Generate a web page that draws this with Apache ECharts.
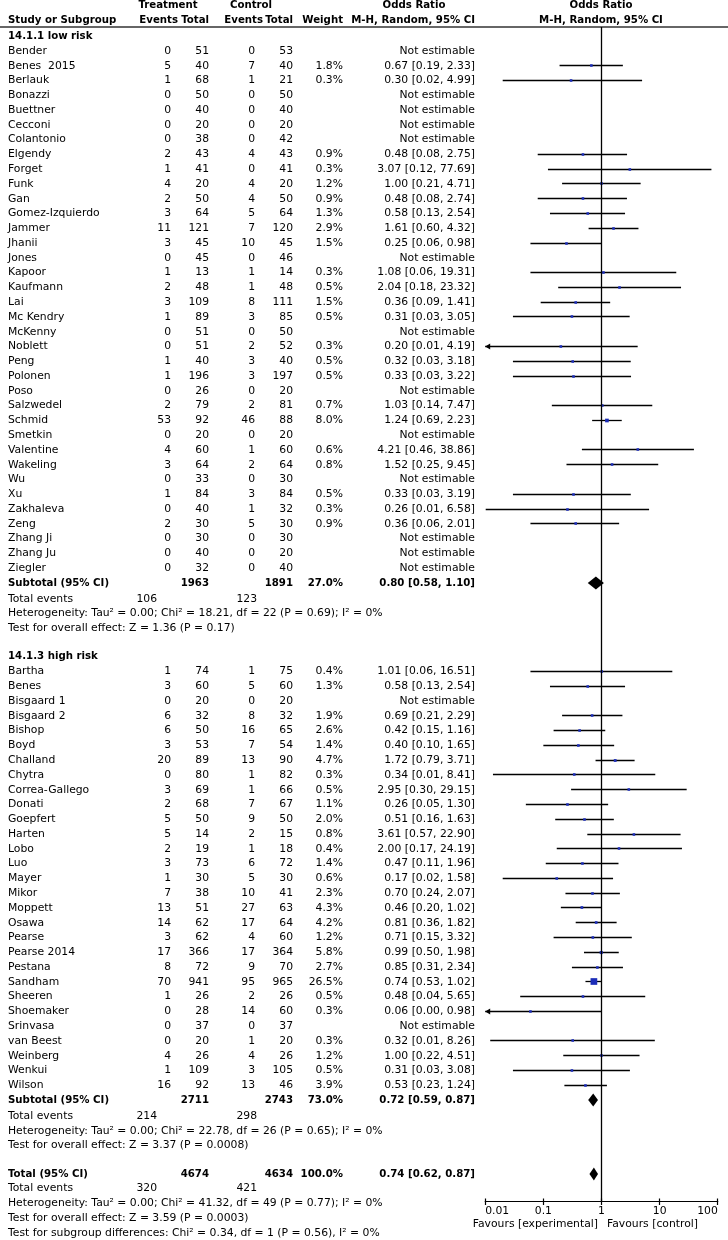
<!DOCTYPE html>
<html><head><meta charset="utf-8">
<script src="https://cdn.jsdelivr.net/npm/echarts@6/dist/echarts.min.js"></script>
<style>html,body{margin:0;padding:0;background:#fff}#c{width:728px;height:1240px}</style>
</head><body><div id="c"></div>
<script>
// ---------------- DATA ----------------
const lowStudies = ['Bender','Benes  2015','Berlauk','Bonazzi','Buettner','Cecconi','Colantonio','Elgendy','Forget','Funk','Gan','Gomez-Izquierdo','Jammer','Jhanii','Jones','Kapoor','Kaufmann','Lai','Mc Kendry','McKenny','Noblett','Peng','Polonen','Poso','Salzwedel','Schmid','Smetkin','Valentine','Wakeling','Wu','Xu','Zakhaleva','Zeng','Zhang Ji','Zhang Ju','Ziegler'];
const lowTrtEv  = [0,5,1,0,0,0,0,2,1,4,2,3,11,3,0,1,2,3,1,0,0,1,1,0,2,53,0,4,3,0,1,0,2,0,0,0];
const lowTrtN   = [51,40,68,50,40,20,38,43,41,20,50,64,121,45,45,13,48,109,89,51,51,40,196,26,79,92,20,60,64,33,84,40,30,30,40,32];
const lowCtlEv  = [0,7,1,0,0,0,0,4,0,4,4,5,7,10,0,1,1,8,3,0,2,3,3,0,2,46,0,1,2,0,3,1,5,0,0,0];
const lowCtlN   = [53,40,21,50,40,20,42,43,41,20,50,64,120,45,46,14,48,111,85,50,52,40,197,20,81,88,20,60,64,30,84,32,30,30,20,40];
const lowWeight = [null,1.8,0.3,null,null,null,null,0.9,0.3,1.2,0.9,1.3,2.9,1.5,null,0.3,0.5,1.5,0.5,null,0.3,0.5,0.5,null,0.7,8.0,null,0.6,0.8,null,0.5,0.3,0.9,null,null,null];
const lowOR     = [null,0.67,0.30,null,null,null,null,0.48,3.07,1.00,0.48,0.58,1.61,0.25,null,1.08,2.04,0.36,0.31,null,0.20,0.32,0.33,null,1.03,1.24,null,4.21,1.52,null,0.33,0.26,0.36,null,null,null];
const lowLo     = [null,0.19,0.02,null,null,null,null,0.08,0.12,0.21,0.08,0.13,0.60,0.06,null,0.06,0.18,0.09,0.03,null,0.0092,0.03,0.03,null,0.14,0.69,null,0.46,0.25,null,0.03,0.0102,0.06,null,null,null];
const lowHi     = [null,2.33,4.99,null,null,null,null,2.75,77.69,4.71,2.74,2.54,4.32,0.98,null,19.31,23.32,1.41,3.05,null,4.19,3.18,3.22,null,7.47,2.23,null,38.86,9.45,null,3.19,6.58,2.01,null,null,null];

const highStudies = ['Bartha','Benes','Bisgaard 1','Bisgaard 2','Bishop','Boyd','Challand','Chytra','Correa-Gallego','Donati','Goepfert','Harten','Lobo','Luo','Mayer','Mikor','Moppett','Osawa','Pearse','Pearse 2014','Pestana','Sandham','Sheeren','Shoemaker','Srinvasa','van Beest','Weinberg','Wenkui','Wilson'];
const highTrtEv  = [1,3,0,6,6,3,20,0,3,2,5,5,2,3,1,7,13,14,3,17,8,70,1,0,0,0,4,1,16];
const highTrtN   = [74,60,20,32,50,53,89,80,69,68,50,14,19,73,30,38,51,62,62,366,72,941,26,28,37,20,26,109,92];
const highCtlEv  = [1,5,0,8,16,7,13,1,1,7,9,2,1,6,5,10,27,17,4,17,9,95,2,14,0,1,4,3,13];
const highCtlN   = [75,60,20,32,65,54,90,82,66,67,50,15,18,72,30,41,63,64,60,364,70,965,26,60,37,20,26,105,46];
const highWeight = [0.4,1.3,null,1.9,2.6,1.4,4.7,0.3,0.5,1.1,2.0,0.8,0.4,1.4,0.6,2.3,4.3,4.2,1.2,5.8,2.7,26.5,0.5,0.3,null,0.3,1.2,0.5,3.9];
const highOR     = [1.01,0.58,null,0.69,0.42,0.40,1.72,0.34,2.95,0.26,0.51,3.61,2.00,0.47,0.17,0.70,0.46,0.81,0.71,0.99,0.85,0.74,0.48,0.06,null,0.32,1.00,0.31,0.53];
const highLo     = [0.06,0.13,null,0.21,0.15,0.10,0.79,0.0136,0.30,0.05,0.16,0.57,0.17,0.11,0.02,0.24,0.20,0.36,0.15,0.50,0.31,0.53,0.04,0.0032,null,0.0122,0.22,0.03,0.23];
const highHi     = [16.51,2.54,null,2.29,1.16,1.65,3.71,8.41,29.15,1.30,1.63,22.90,24.19,1.96,1.58,2.07,1.02,1.82,3.32,1.98,2.34,1.02,5.65,0.98,null,8.26,4.51,3.08,1.24];

// summaries: [trtN, ctlN, weight, or, lo, hi, trtEvents, ctlEvents]
const lowSummary   = [1963, 1891, 27.0, 0.80, 0.58, 1.10, 106, 123];
const highSummary  = [2711, 2743, 73.0, 0.72, 0.59, 0.87, 214, 298];
const totalSummary = [4674, 4634, 100.0, 0.74, 0.62, 0.87, 320, 421];

const lowHet   = 'Heterogeneity: Tau\u00B2 = 0.00; Chi\u00B2 = 18.21, df = 22 (P = 0.69); I\u00B2 = 0%';
const lowTest  = 'Test for overall effect: Z = 1.36 (P = 0.17)';
const highHet  = 'Heterogeneity: Tau\u00B2 = 0.00; Chi\u00B2 = 22.78, df = 26 (P = 0.65); I\u00B2 = 0%';
const highTest = 'Test for overall effect: Z = 3.37 (P = 0.0008)';
const totHet   = 'Heterogeneity: Tau\u00B2 = 0.00; Chi\u00B2 = 41.32, df = 49 (P = 0.77); I\u00B2 = 0%';
const totTest  = 'Test for overall effect: Z = 3.59 (P = 0.0003)';
const subgroupTest = 'Test for subgroup differences: Chi\u00B2 = 0.34, df = 1 (P = 0.56), I\u00B2 = 0%';

const axisTicks = [0.01, 0.1, 1, 10, 100];
const favourLeft = 'Favours [experimental]';
const favourRight = 'Favours [control]';

// ---------------- LAYOUT ----------------
const FONT = '"DejaVu Sans", sans-serif';
const FS = 10.8, FSB = 10.2;
const ROW0_Y = 6.675, ROW_H = 14.775, AXIS_Y = 1201.5;
const ROW_MAX = (AXIS_Y - ROW0_Y) / ROW_H;
const yToRow = y => (y - ROW0_Y) / ROW_H;
const COL = {name:8, trtEv:171, trtN:209, ctlEv:255, ctlN:293, weight:343, or:475, teTrt:157, teCtl:257};
const PLOT_LEFT = 485.2, PLOT_W = 232.6;

const textItems = [];
function T(x, row, text, align, bold) { textItems.push({x, row, text:String(text), align:align||'left', bold:!!bold}); }
const f2 = v => v.toFixed(2);
const ciText = (o,l,h) => o == null ? 'Not estimable' : `${f2(o)} [${f2(l)}, ${f2(h)}]`;

// headers
T(168, yToRow(5), 'Treatment', 'center', true);
T(251, yToRow(5), 'Control', 'center', true);
T(414, yToRow(5), 'Odds Ratio', 'center', true);
T(601, yToRow(5), 'Odds Ratio', 'center', true);
const hr = yToRow(20);
T(COL.name, hr, 'Study or Subgroup', 'left', true);
T(178, hr, 'Events', 'right', true);
T(209, hr, 'Total', 'right', true);
T(263, hr, 'Events', 'right', true);
T(293, hr, 'Total', 'right', true);
T(343, hr, 'Weight', 'right', true);
T(475, hr, 'M-H, Random, 95% CI', 'right', true);
T(601, hr, 'M-H, Random, 95% CI', 'center', true);

const forest = [];
const diamonds = [];

function group(startRow, title, names, te, tn, ce, cn, w, or, lo, hi, summ, het, test) {
  T(COL.name, startRow, title, 'left', true);
  names.forEach((nm, i) => {
    const r = startRow + 1 + i;
    T(COL.name, r, nm);
    T(COL.trtEv, r, te[i], 'right');
    T(COL.trtN, r, tn[i], 'right');
    T(COL.ctlEv, r, ce[i], 'right');
    T(COL.ctlN, r, cn[i], 'right');
    if (w[i] != null) T(COL.weight, r, w[i].toFixed(1) + '%', 'right');
    T(COL.or, r, ciText(or[i], lo[i], hi[i]), 'right');
    if (or[i] != null) forest.push([or[i], r, lo[i], hi[i], w[i]]);
  });
  const sr = startRow + 1 + names.length;
  T(COL.name, sr, 'Subtotal (95% CI)', 'left', true);
  T(COL.trtN, sr, summ[0], 'right', true);
  T(COL.ctlN, sr, summ[1], 'right', true);
  T(COL.weight, sr, summ[2].toFixed(1) + '%', 'right', true);
  T(COL.or, sr, ciText(summ[3], summ[4], summ[5]), 'right', true);
  diamonds.push([summ[3], sr, summ[4], summ[5]]);
  T(COL.name, sr + 1.08, 'Total events');
  T(COL.teTrt, sr + 1.08, summ[6], 'right');
  T(COL.teCtl, sr + 1.08, summ[7], 'right');
  T(COL.name, sr + 2.08, het);
  T(COL.name, sr + 3.08, test);
  return sr + 5;
}
let nr = group(2, '14.1.1 low risk', lowStudies, lowTrtEv, lowTrtN, lowCtlEv, lowCtlN, lowWeight, lowOR, lowLo, lowHi, lowSummary, lowHet, lowTest);
nr = group(nr, '14.1.3 high risk', highStudies, highTrtEv, highTrtN, highCtlEv, highCtlN, highWeight, highOR, highLo, highHi, highSummary, highHet, highTest);
// overall total
const tr = nr;
T(COL.name, tr, 'Total (95% CI)', 'left', true);
T(COL.trtN, tr, totalSummary[0], 'right', true);
T(COL.ctlN, tr, totalSummary[1], 'right', true);
T(COL.weight, tr, totalSummary[2].toFixed(1) + '%', 'right', true);
T(COL.or, tr, ciText(totalSummary[3], totalSummary[4], totalSummary[5]), 'right', true);
diamonds.push([totalSummary[3], tr, totalSummary[4], totalSummary[5]]);
T(COL.name, tr + 1, 'Total events');
T(COL.teTrt, tr + 1, totalSummary[6], 'right');
T(COL.teCtl, tr + 1, totalSummary[7], 'right');
T(COL.name, tr + 2, totHet);
T(COL.name, tr + 3, totTest);
T(COL.name, tr + 4, subgroupTest);
// favours labels
T(598, yToRow(1224), favourLeft, 'right');
T(607, yToRow(1224), favourRight, 'left');

const HEADER_LINE_ROW = yToRow(27);

// ---------------- CHART ----------------
const chart = echarts.init(document.getElementById('c'), null, {renderer:'canvas'});
const crisp = v => Math.round(v - 0.5) + 0.5;

chart.setOption({
  animation: false,
  backgroundColor: '#fff',
  grid: [
    {left: 0, width: 728, top: ROW0_Y, height: AXIS_Y - ROW0_Y},
    {left: PLOT_LEFT, width: PLOT_W, top: ROW0_Y, height: AXIS_Y - ROW0_Y}
  ],
  xAxis: [
    {type: 'value', gridIndex: 0, min: 0, max: 728, show: false},
    {type: 'log', logBase: 10, gridIndex: 1, position: 'bottom',
     min: axisTicks[0], max: axisTicks[axisTicks.length-1],
     axisLine: {show: true, onZero: false, lineStyle: {color: '#000', width: 1.2}},
     axisTick: {show: false},
     splitLine: {show: false},
     axisLabel: {color: '#000', fontFamily: FONT, fontSize: 10.8, margin: 4,
                 alignMinLabel: 'left', alignMaxLabel: 'right',
                 formatter: v => String(parseFloat((+v).toPrecision(6)))}}
  ],
  yAxis: [
    {type: 'value', gridIndex: 0, min: 0, max: ROW_MAX, inverse: true, show: false},
    {type: 'value', gridIndex: 1, min: 0, max: ROW_MAX, inverse: true, show: false}
  ],
  series: [
    { // header rule
      type: 'line', xAxisIndex: 0, yAxisIndex: 0, symbol: 'none', silent: true,
      data: [[0, HEADER_LINE_ROW], [728, HEADER_LINE_ROW]],
      lineStyle: {color: '#333', width: 1.6}
    },
    { // line of no effect
      type: 'line', xAxisIndex: 1, yAxisIndex: 1, symbol: 'none', silent: true,
      data: [[1, HEADER_LINE_ROW], [1, ROW_MAX]],
      lineStyle: {color: '#000', width: 1.3}
    },
    { // axis ticks
      type: 'custom', xAxisIndex: 1, yAxisIndex: 1, silent: true, clip: false,
      data: axisTicks.map(t => [t, ROW_MAX]),
      renderItem: (params, api) => {
        const p = api.coord([api.value(0), api.value(1)]);
        const x = crisp(p[0]);
        return {type: 'line', shape: {x1: x, y1: p[1] - 3, x2: x, y2: p[1] + 3.5}, style: {stroke: '#000', lineWidth: 1.2}};
      }
    },
    { // study CIs and squares
      type: 'custom', xAxisIndex: 1, yAxisIndex: 1, silent: true, clip: false,
      data: forest,
      renderItem: (params, api) => {
        const or = api.value(0), row = api.value(1), lo = api.value(2), hi = api.value(3), w = api.value(4);
        const minX = axisTicks[0], maxX = axisTicks[axisTicks.length-1];
        const pLo = api.coord([Math.max(lo, minX), row]);
        const pHi = api.coord([Math.min(hi, maxX), row]);
        const pOr = api.coord([or, row]);
        const y = crisp(pOr[1]);
        const children = [];
        children.push({type: 'line', shape: {x1: pLo[0], y1: y, x2: pHi[0], y2: y}, style: {stroke: '#000', lineWidth: 1.3}});
        if (lo < minX) {
          children.push({type: 'polygon', shape: {points: [[pLo[0], y], [pLo[0] + 5, y - 3], [pLo[0] + 5, y + 3]]}, style: {fill: '#000'}});
        }
        const s = Math.max(2.6, 1.3 * Math.sqrt(w));
        children.push({type: 'rect', shape: {x: pOr[0] - s/2, y: y - s/2, width: s, height: s}, style: {fill: '#1c2db8'}});
        return {type: 'group', children};
      }
    },
    { // summary diamonds
      type: 'custom', xAxisIndex: 1, yAxisIndex: 1, silent: true, clip: false,
      data: diamonds,
      renderItem: (params, api) => {
        const or = api.value(0), row = api.value(1), lo = api.value(2), hi = api.value(3);
        const pLo = api.coord([lo, row]), pHi = api.coord([hi, row]), pOr = api.coord([or, row]);
        const y = pOr[1];
        return {type: 'polygon', shape: {points: [[pLo[0], y], [pOr[0], y - 6.5], [pHi[0], y], [pOr[0], y + 6.5]]}, style: {fill: '#000'}};
      }
    },
    { // table text
      type: 'custom', xAxisIndex: 0, yAxisIndex: 0, silent: true, clip: false,
      data: textItems.map((t, i) => [t.x, t.row, i]),
      renderItem: (params, api) => {
        const t = textItems[api.value(2)];
        const p = api.coord([t.x, t.row]);
        return {type: 'text', x: p[0], y: p[1],
                style: {text: t.text, align: t.align, verticalAlign: 'middle',
                        font: (t.bold ? 'bold ' + FSB : FS) + 'px ' + FONT, fill: '#000'}};
      }
    }
  ]
});
</script>
</body></html>
